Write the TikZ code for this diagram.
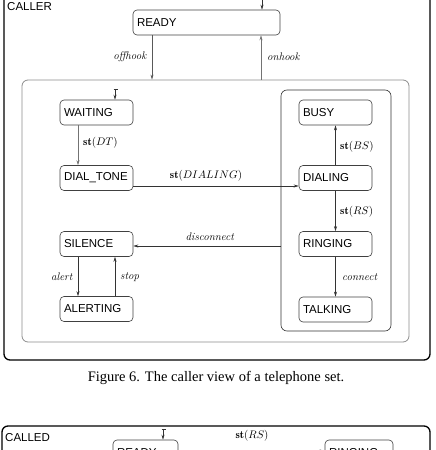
\documentclass[tikz,border=0pt]{standalone}
\usepackage{fontspec}
\newfontfamily\nodefont{Liberation Sans}
\newfontfamily\capfont{Liberation Serif}
\usetikzlibrary{arrows.meta}
\begin{document}
\begin{tikzpicture}[x=1pt,y=-1pt,
  statebox/.style={draw=black!75, rounded corners=4pt, line width=0.6pt, minimum height=25pt,
    inner xsep=4pt, inner ysep=2pt, text width=65pt, align=left,
    font=\nodefont\fontsize{11.5}{13}\selectfont},
  arr/.style={-{Stealth[length=5pt,width=3pt]}, line width=0.6pt, draw=black!80},
  garr/.style={arr, draw=black!55},
  lab/.style={font=\fontsize{11}{12}\selectfont, inner sep=1pt},
  frame/.style={draw, line width=1.3pt, rounded corners=6pt, inner sep=0pt},
  title/.style={anchor=base west, inner sep=0pt, font=\nodefont\fontsize{11.5}{13}\selectfont},
  initbar/.style={draw=black!80, line width=0.6pt}]
\useasboundingbox (0,0) rectangle (436,450);
\clip (0,0) rectangle (436,450);
% outer frame
\node[frame, minimum width=426pt, minimum height=380pt] (caller) at (217,170) {};
\node[title] (callerlab) at (7,10) {CALLER};
% top state
\node[statebox, text width=139pt] (ready) at (206.5,22.5) {READY};
% middle gray box
\node[draw=black!45, line width=0.8pt, rounded corners=6pt, inner sep=0pt,
      minimum width=387pt, minimum height=262pt] (mid) at (215.5,211) {};
% right inner box
\node[draw=black!80, line width=0.6pt, rounded corners=6pt, inner sep=0pt,
      minimum width=110pt, minimum height=241pt] (rbox) at (336,210.5) {};
% left column
\node[statebox] (waiting) at (96.5,112.5) {WAITING};
\node[statebox] (dialtone) at (96.5,178) {DIAL\_TONE};
\node[statebox] (silence) at (96.5,244) {SILENCE};
\node[statebox] (alerting) at (96.5,309) {ALERTING};
% right column
\node[statebox] (busy) at (335.5,112.5) {BUSY};
\node[statebox] (dialing) at (335.5,178) {DIALING};
\node[statebox] (ringing) at (335.5,244) {RINGING};
\node[statebox] (talking) at (335.5,309.5) {TALKING};
% initial markers
\coordinate (ir) at ([xshift=55.5pt,yshift=12pt]ready.north);
\draw[initbar] ([xshift=-1.5pt]ir) -- ([xshift=3pt]ir);
\draw[arr] (ir) -- (ir |- ready.north);
\coordinate (iw) at ([xshift=18.5pt,yshift=10pt]waiting.north);
\draw[initbar] ([xshift=-1.5pt]iw) -- ([xshift=3pt]iw);
\draw[arr] (iw) -- (iw |- waiting.north);
% offhook / onhook
\coordinate (offx) at ([xshift=-54.5pt]ready.south);
\draw[arr, draw=black!65] (offx) -- (offx |- mid.north);
\node[lab, anchor=east] (offlab) at (148,57) {\textit{offhook}};
\coordinate (onx) at ([xshift=54.5pt]ready.south);
\draw[garr] (onx |- mid.north) -- (onx);
\node[lab, anchor=west] (onlab) at (266,57) {\textit{onhook}};
% left transitions
\draw[garr] ([xshift=-18.5pt]waiting.south) -- ([xshift=-18.5pt]dialtone.north);
\node[lab, anchor=west] (dtlab) at (82,143) {$\mathbf{st}(DT)$};
\draw[arr] ([yshift=-8pt]dialtone.east) -- ([yshift=-8pt]dialing.west);
\node[lab] (diallab) at (206,176) {$\mathbf{st}(DIALING)$};
\draw[arr] ([xshift=-18.5pt]silence.south) -- ([xshift=-18.5pt]alerting.north);
\node[lab, anchor=east] (alertlab) at (74,277) {\textit{alert}};
\draw[arr] ([xshift=18.5pt]alerting.north) -- ([xshift=18.5pt]silence.south);
\node[lab, anchor=west] (stoplab) at (119,277) {\textit{stop}};
% right transitions
\draw[arr] (dialing) -- (busy);
\node[lab, anchor=west] (bslab) at (339,147) {$\mathbf{st}(BS)$};
\draw[arr] (dialing) -- (ringing);
\node[lab, anchor=west] (rslab) at (339,212) {$\mathbf{st}(RS)$};
\draw[arr] (ringing) -- (talking);
\node[lab, anchor=west] (conlab) at (341,277) {\textit{connect}};
% disconnect
\coordinate (dc) at ([yshift=-2pt]silence.east);
\draw[arr] (rbox.west |- dc) -- (dc);
\node[lab] (disclab) at (210,237) {\textit{disconnect}};
% caption
\node[font=\capfont\fontsize{14.5}{16}\selectfont, inner sep=0pt] (caption) at (216,378) {Figure 6. The caller view of a telephone set.};
% second (cropped) figure
\node[frame, minimum width=428pt, minimum height=60pt] (called) at (216,456) {};
\node[title] (calledlab) at (5,441) {CALLED};
\node[statebox, text width=57pt] (ready2) at (145.5,452.5) {READY};
\node[statebox, text width=60pt] (ringing2) at (359,452.5) {RINGING};
\coordinate (ir2) at ([xshift=17.5pt,yshift=10pt]ready2.north);
\draw[initbar] ([xshift=-1.5pt]ir2) -- ([xshift=3pt]ir2);
\draw[arr] (ir2) -- (ir2 |- ready2.north);
\draw[arr] ([yshift=1.5pt]ready2.east) -- ([yshift=1.5pt]ringing2.west);
\node[lab] (rs2lab) at (252,436) {$\mathbf{st}(RS)$};
\end{tikzpicture}
\end{document}
